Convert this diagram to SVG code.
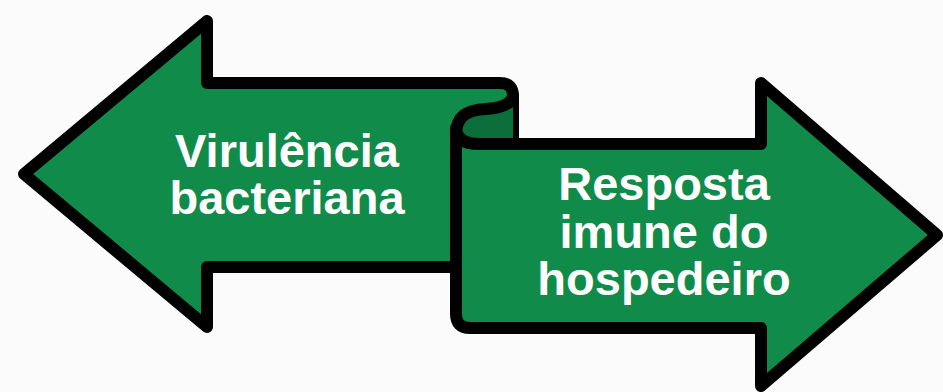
<svg xmlns="http://www.w3.org/2000/svg" width="943" height="392" viewBox="0 0 943 392">
<style>
.fill{fill:#108b4a}
.dark{fill:#0c6e3a}
.line{fill:none;stroke:#000;stroke-width:12;stroke-linejoin:round;stroke-linecap:round}
.lbl{font-family:"Liberation Sans",Arial,sans-serif;font-weight:bold;font-size:47px;fill:#fff;text-anchor:middle}
</style>
<rect width="943" height="392" fill="#fafbfa"/>
<g id="left-arrow">
<path class="fill" d="M24,174 L207,21 L207,83 L500,83 Q513,83 513,96 L513,144 L456,144 L456,267 L207,267 L207,327 Z"/>
<path class="line" d="M456,267 L207,267 L207,327 L24,174 L207,21 L207,83 L500,83 Q513,83 513,96 L513,144"/>
<text class="lbl" x="287" y="167">Virulência</text>
<text class="lbl" x="287" y="214">bacteriana</text>
</g>
<g id="right-arrow">
<path class="fill" d="M456,140 L456,314 Q456,328 470,328 L761,328 L761,386 L937,235 L761,83 L761,144 L456,144 Z"/>
<path class="dark" d="M456,133 C456,115 468,110 486,109 C502,108 511,104 513,96 L513,144 L480,144 C466,144 456,140 456,133 Z"/>
<path class="line" d="M513,144 L761,144 L761,83 L937,235 L761,386 L761,328 L470,328 Q456,328 456,314 L456,130"/>
<path class="line" d="M456,135 C456,115 468,110 486,109 C502,108 511,104 513,96"/>
<path class="line" d="M513,144 L480,144 C466,144 456,140 456,128"/>
<text class="lbl" x="664" y="200">Resposta</text>
<text class="lbl" x="664" y="248">imune do</text>
<text class="lbl" x="664" y="295">hospedeiro</text>
</g>
</svg>
